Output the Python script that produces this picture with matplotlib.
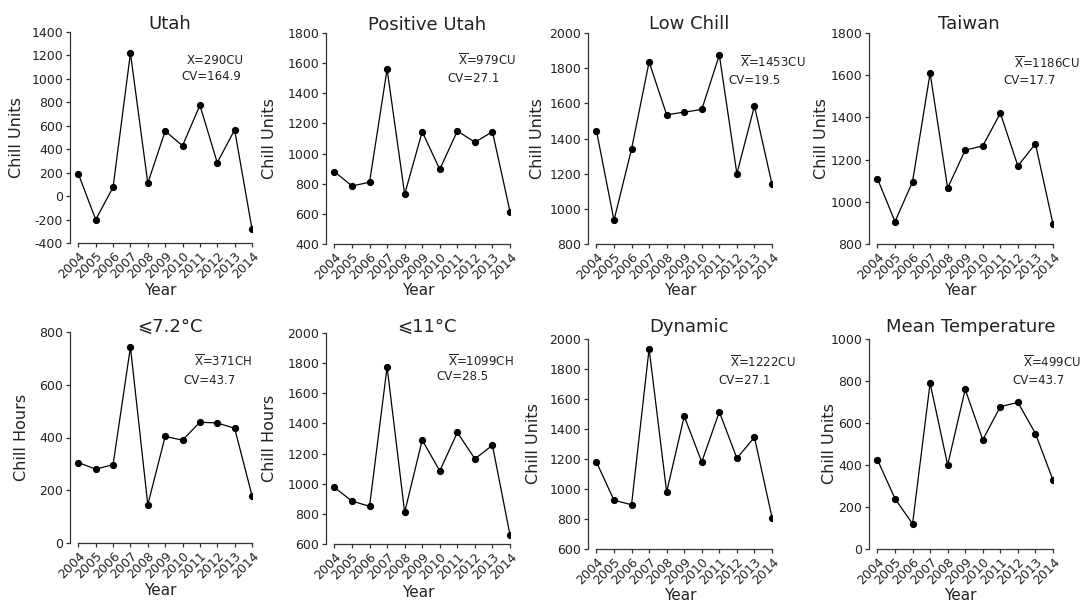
import matplotlib
matplotlib.use("Agg")
import matplotlib.pyplot as plt

plt.rcParams['font.family'] = ['DejaVu Sans', 'Noto Sans CJK SC']
plt.rcParams['mathtext.fontset'] = 'dejavusans'
plt.rcParams['axes.unicode_minus'] = False

W, H = 1083, 601

years = list(range(2004, 2015))
year_labels = [str(y) for y in years]

utah = [190, -200, 75, 1220, 110, 555, 430, 775, 285, 565, -280]
positive_utah = [880, 785, 810, 1560, 730, 1145, 895, 1150, 1075, 1145, 615]
low_chill = [1445, 935, 1340, 1835, 1535, 1550, 1565, 1875, 1200, 1585, 1140]
taiwan = [1110, 906, 1095, 1610, 1065, 1245, 1265, 1420, 1170, 1275, 895]
below_72 = [305, 280, 297, 743, 145, 404, 390, 458, 455, 435, 180]
below_11 = [975, 885, 850, 1775, 810, 1290, 1085, 1340, 1165, 1255, 660]
dynamic = [1180, 925, 895, 1935, 980, 1485, 1180, 1515, 1205, 1345, 810]
mean_temp = [425, 240, 120, 790, 400, 760, 520, 678, 698, 550, 328]

titles = ['Utah', 'Positive Utah', 'Low Chill', 'Taiwan',
          '\u2a7d7.2\u00b0C', '\u2a7d11\u00b0C', 'Dynamic', 'Mean Temperature']
series = [utah, positive_utah, low_chill, taiwan, below_72, below_11, dynamic, mean_temp]
ylabels = ['Chill Units', 'Chill Units', 'Chill Units', 'Chill Units',
           'Chill Hours', 'Chill Hours', 'Chill Units', 'Chill Units']
ylims = [(-400, 1400), (400, 1800), (800, 2000), (800, 1800),
         (0, 800), (600, 2000), (600, 2000), (0, 1000)]
means = ['X=290CU', r'$\overline{\mathrm{X}}$=979CU', r'$\overline{\mathrm{X}}$=1453CU',
         r'$\overline{\mathrm{X}}$=1186CU', r'$\overline{\mathrm{X}}$=371CH',
         r'$\overline{\mathrm{X}}$=1099CH', r'$\overline{\mathrm{X}}$=1222CU',
         r'$\overline{\mathrm{X}}$=499CU']
cvs = ['CV=164.9', 'CV=27.1', 'CV=19.5', 'CV=17.7', 'CV=43.7', 'CV=28.5', 'CV=27.1', 'CV=43.7']

# layout in pixels: spine x, 2014 tick x, top y, bottom y
boxes = [(70, 252, 32, 243), (326, 510, 33, 244), (588, 772, 33, 244), (869, 1053, 33, 244),
         (70, 252, 332, 543), (326, 510, 333, 544), (588, 772, 339, 549), (869, 1053, 339, 549)]
title_pos = [(170, 29), (427, 30), (689, 29), (969, 29),
             (170, 332), (427, 332), (689, 332), (971, 332)]
ylab_x = [17, 270, 537, 822, 22, 270, 533, 829]
year_pos = [(160, 295), (418, 295), (680, 295), (960, 295),
            (160, 595), (418, 597), (680, 600), (960, 600)]
mean_pos = [(187, 60), (458, 60), (740, 62), (1014, 63),
            (194, 361), (448, 361), (730, 362), (1023, 362)]
cv_pos = [(181, 77), (447, 79), (728, 80), (1003, 80),
          (183, 380), (436, 377), (718, 380), (1012, 380)]

axis_col = '#333333'

fig = plt.figure(figsize=(W / 100, H / 100), dpi=100)


def fx(px):
    return px / W


def fy(py):
    return 1 - py / H


for i in range(8):
    x0, x1, y0, y1 = boxes[i]
    ax = fig.add_axes([fx(x0), fy(y1), (x1 - x0) / W, (y1 - y0) / H])
    ax.plot(years, series[i], color='black', lw=0.9, marker='o', markersize=4.2)
    ax.set_xlim(2003.52, 2014)
    ax.set_ylim(*ylims[i])
    lo, hi = ylims[i]
    ax.set_yticks(range(lo, hi + 1, 200))
    ax.set_xticks(years)
    ax.set_xticklabels(year_labels, rotation=45, ha='right', rotation_mode='anchor')
    ax.spines['top'].set_visible(False)
    ax.spines['right'].set_visible(False)
    ax.spines['bottom'].set_bounds(2004, 2014)
    for s in ('left', 'bottom'):
        ax.spines[s].set_color(axis_col)
        ax.spines[s].set_linewidth(0.9)
    ax.tick_params(axis='both', colors=axis_col, labelcolor='#222222', labelsize=9,
                   length=3, width=0.9, direction='out')
    ax.tick_params(axis='x', pad=1.5)
    ax.tick_params(axis='y', pad=2)
    ax.patch.set_alpha(0)

    tx, ty = title_pos[i]
    fig.text(fx(tx), fy(ty), titles[i], ha='center', va='baseline', fontsize=13,
             color='#222222')
    fig.text(fx(ylab_x[i]), fy((y0 + y1) / 2), ylabels[i], rotation=90,
             ha='center', va='center', fontsize=11.5, color='#222222')
    yx, yy = year_pos[i]
    fig.text(fx(yx), fy(yy), 'Year', ha='center', va='baseline', fontsize=11,
             color='#222222')
    mx, my = mean_pos[i]
    fig.text(fx(mx), fy(my), means[i], ha='left', va='center', fontsize=8.5,
             color='#222222')
    cx, cy = cv_pos[i]
    fig.text(fx(cx), fy(cy), cvs[i], ha='left', va='center', fontsize=8.5,
             color='#222222')

fig.savefig('out.png', dpi=100)
